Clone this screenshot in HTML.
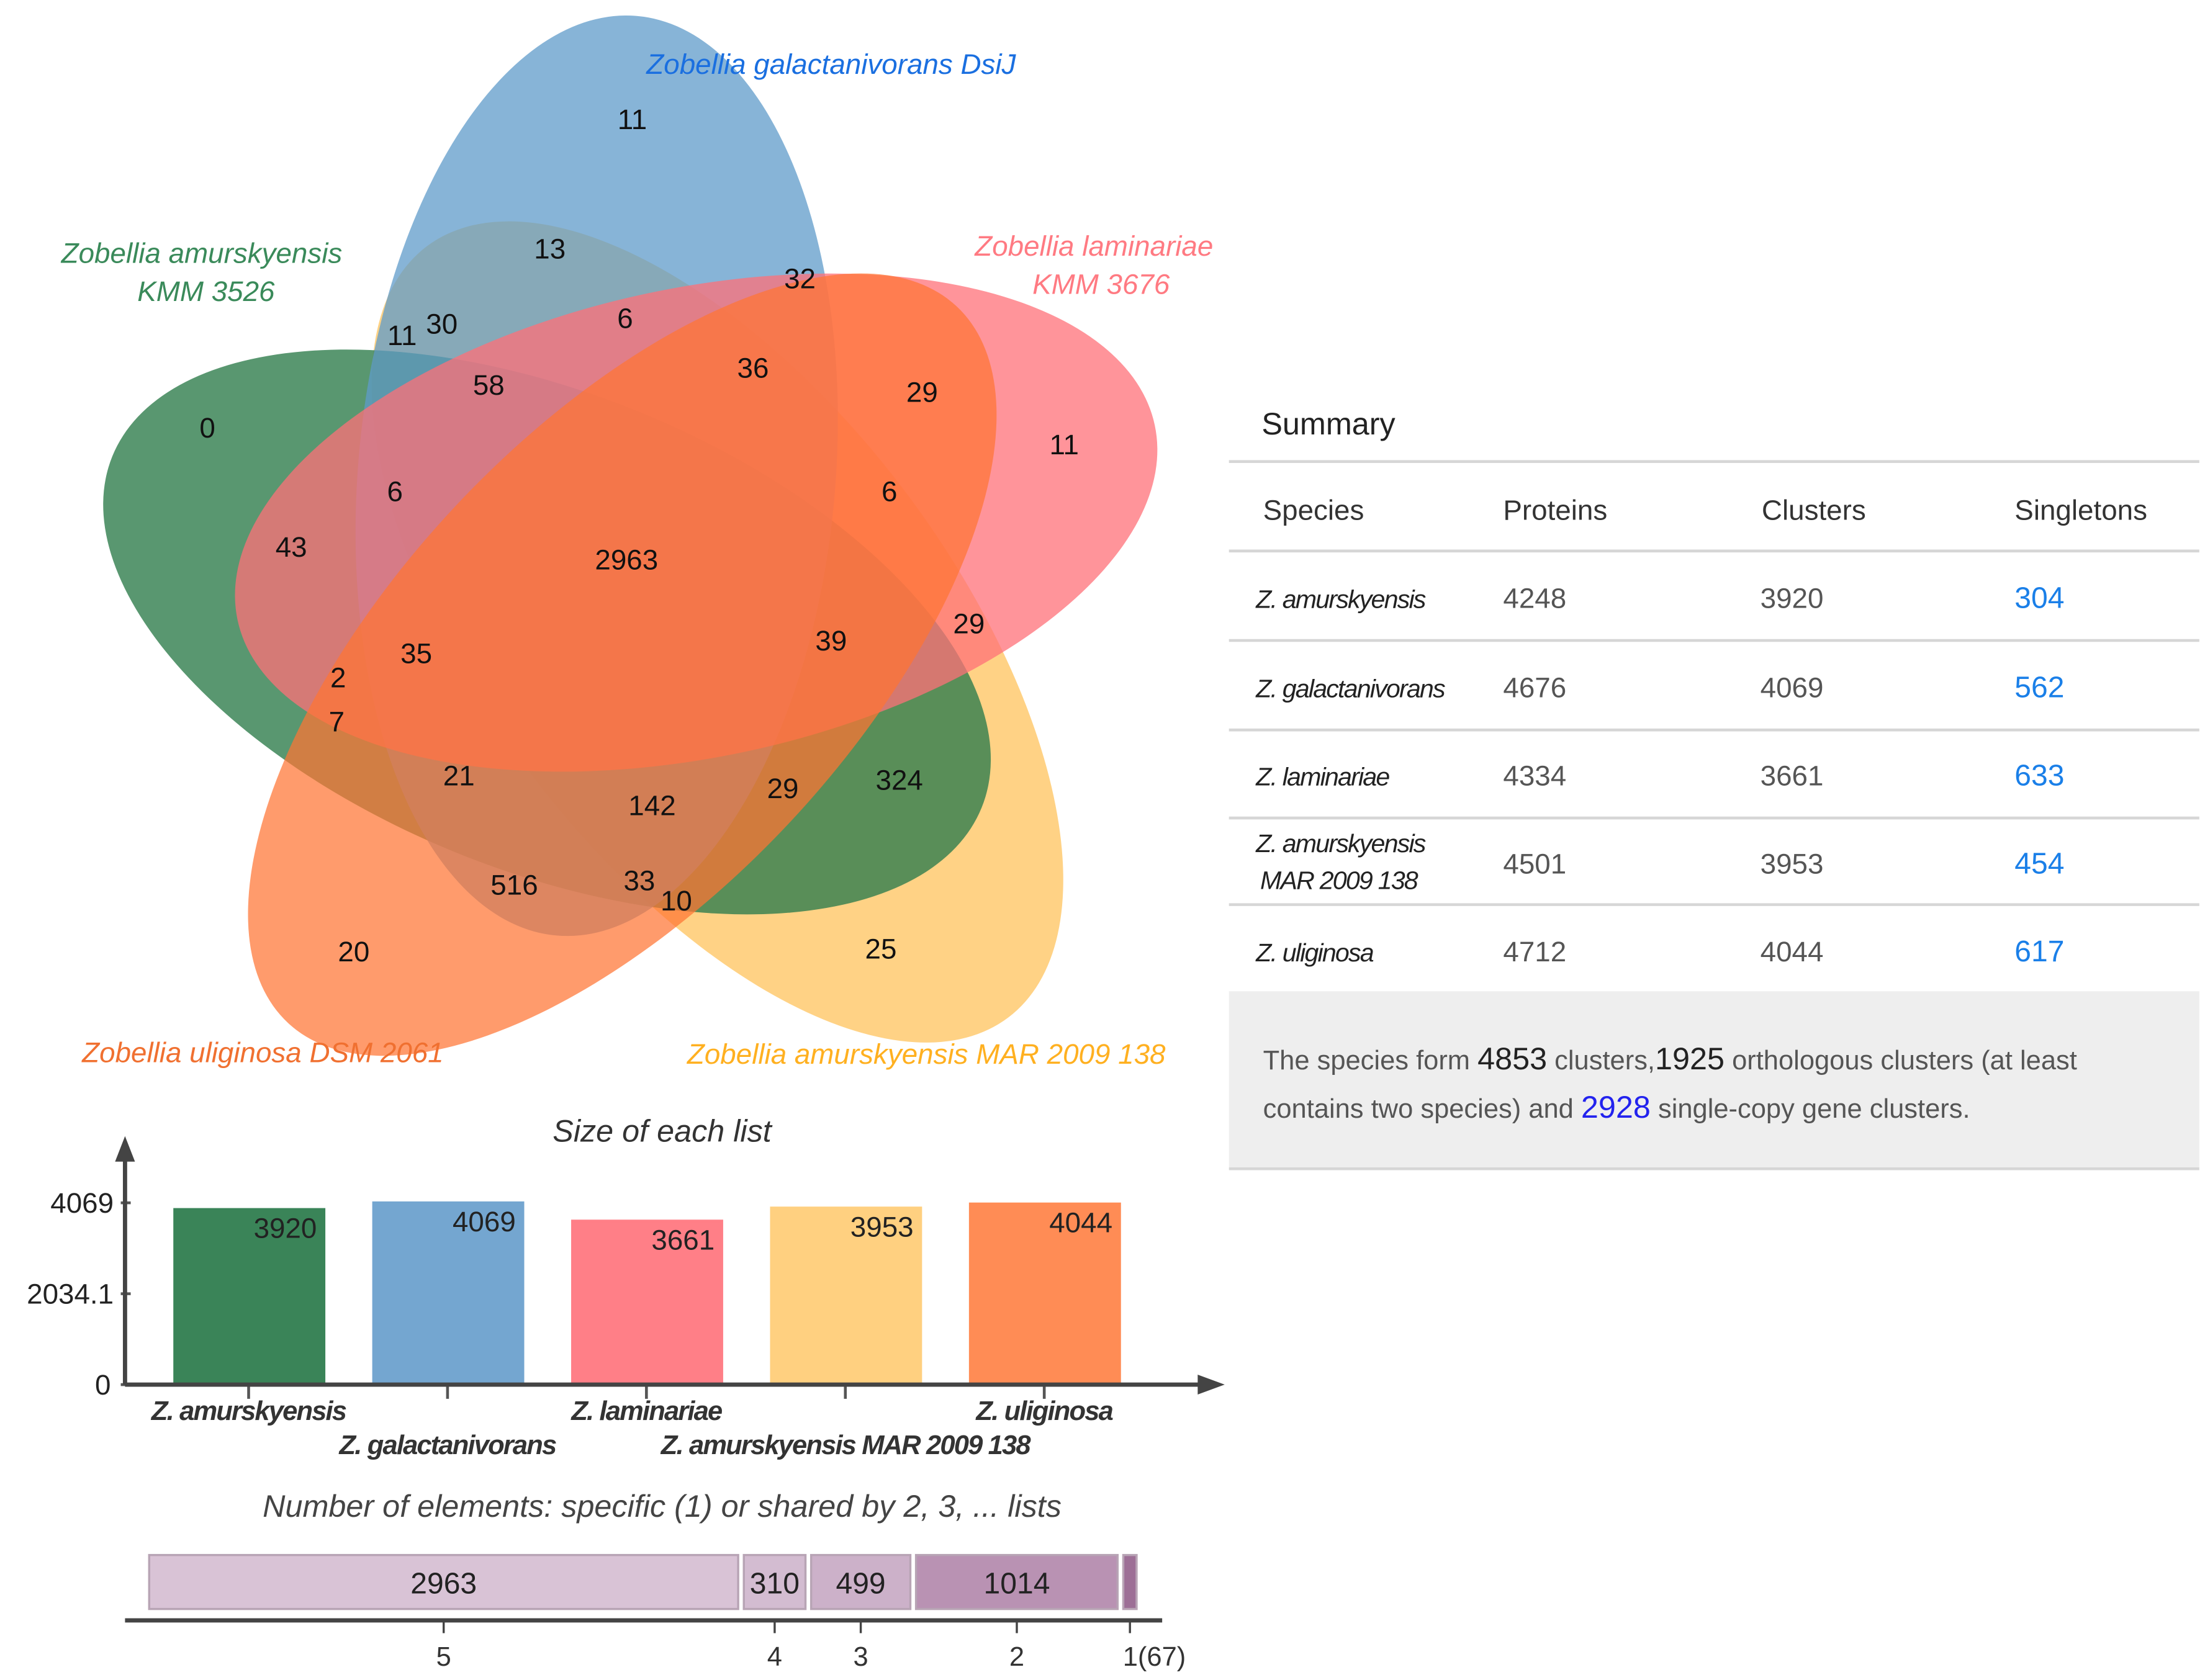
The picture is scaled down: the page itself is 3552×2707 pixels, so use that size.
<!DOCTYPE html>
<html><head><meta charset="utf-8"><style>
html,body{margin:0;padding:0;background:#fff;}
svg{display:block;font-family:"Liberation Sans",sans-serif;}
</style></head><body>
<svg id="root" width="3552" height="2707" viewBox="0 0 1552 1183" preserveAspectRatio="none" xmlns="http://www.w3.org/2000/svg">
<g id="venn">
  <ellipse cx="505" cy="445" rx="340" ry="165" transform="rotate(53 505 445)" fill="#ffc35c" opacity="0.75"/>
  <ellipse cx="385" cy="445" rx="330" ry="168" transform="rotate(22 385 445)" fill="#2f7d4c" opacity="0.8"/>
  <ellipse cx="420" cy="335" rx="325" ry="168" transform="rotate(-85 420 335)" fill="#5f9bc9" opacity="0.75"/>
  <ellipse cx="490" cy="368" rx="330" ry="165" transform="rotate(-12 490 368)" fill="#ff7078" opacity="0.75"/>
  <ellipse cx="438" cy="468" rx="345" ry="162" transform="rotate(-47 438 468)" fill="#ff7433" opacity="0.72"/>
  <g font-size="20" fill="#111" text-anchor="middle">
    <text x="445" y="91">11</text><text x="387" y="182">13</text><text x="563" y="203">32</text>
    <text x="283" y="243">11</text><text x="311" y="235">30</text><text x="440" y="231">6</text>
    <text x="344" y="278">58</text><text x="530" y="266">36</text><text x="649" y="283">29</text>
    <text x="146" y="308">0</text><text x="749" y="320">11</text><text x="278" y="353">6</text>
    <text x="626" y="353">6</text><text x="205" y="392">43</text><text x="441" y="401">2963</text>
    <text x="585" y="458">39</text><text x="682" y="446">29</text><text x="293" y="467">35</text>
    <text x="238" y="484">2</text><text x="237" y="515">7</text><text x="323" y="553">21</text>
    <text x="459" y="574">142</text><text x="551" y="562">29</text><text x="633" y="556">324</text>
    <text x="362" y="630">516</text><text x="450" y="627">33</text><text x="476" y="641">10</text>
    <text x="249" y="677">20</text><text x="620" y="675">25</text>
  </g>
  <g font-size="20" font-style="italic" text-anchor="middle">
    <text x="585" y="52" fill="#1a6fe0">Zobellia galactanivorans DsiJ</text>
    <text x="142" y="185" fill="#3a8a5a">Zobellia amurskyensis</text>
    <text x="145" y="212" fill="#3a8a5a">KMM 3526</text>
    <text x="770" y="180" fill="#ff7a82">Zobellia laminariae</text>
    <text x="775" y="207" fill="#ff7a82">KMM 3676</text>
    <text x="185" y="748" fill="#f07030">Zobellia uliginosa DSM 2061</text>
    <text x="652" y="749" fill="#ffb020">Zobellia amurskyensis MAR 2009 138</text>
  </g>
</g>

<g id="summary">
  <text x="888" y="306" font-size="22" fill="#222">Summary</text>
  <g stroke="#d6d6d6" stroke-width="2">
    <line x1="865" y1="325" x2="1548" y2="325"/><line x1="865" y1="388" x2="1548" y2="388"/>
    <line x1="865" y1="451" x2="1548" y2="451"/><line x1="865" y1="514" x2="1548" y2="514"/>
    <line x1="865" y1="576" x2="1548" y2="576"/><line x1="865" y1="637" x2="1548" y2="637"/>
  </g>
  <rect x="865" y="698" width="683" height="124" fill="#eeeeee"/>
  <line x1="865" y1="823" x2="1548" y2="823" stroke="#d6d6d6" stroke-width="2"/>
  <g font-size="20" fill="#333">
    <text x="889" y="366">Species</text><text x="1058" y="366">Proteins</text>
    <text x="1240" y="366">Clusters</text><text x="1418" y="366">Singletons</text>
  </g>
  <g font-size="20" fill="#555">
    <g font-style="italic" fill="#222" font-size="18" letter-spacing="-0.8">
      <text x="884" y="428">Z. amurskyensis</text><text x="884" y="491">Z. galactanivorans</text>
      <text x="884" y="553">Z. laminariae</text><text x="884" y="600">Z. amurskyensis</text>
      <text x="887" y="626">MAR 2009 138</text><text x="884" y="677">Z. uliginosa</text>
    </g>
    <text x="1058" y="428">4248</text><text x="1058" y="491">4676</text><text x="1058" y="553">4334</text><text x="1058" y="615">4501</text><text x="1058" y="677">4712</text>
    <text x="1239" y="428">3920</text><text x="1239" y="491">4069</text><text x="1239" y="553">3661</text><text x="1239" y="615">3953</text><text x="1239" y="677">4044</text>
    <g fill="#1a7fe8" font-size="21">
      <text x="1418" y="428">304</text><text x="1418" y="491">562</text><text x="1418" y="553">633</text><text x="1418" y="615">454</text><text x="1418" y="677">617</text>
    </g>
  </g>
  <text x="889" y="753" font-size="19" fill="#555">The species form <tspan fill="#222" font-size="22">4853</tspan> clusters,<tspan fill="#222" font-size="22">1925</tspan> orthologous clusters (at least</text>
  <text x="889" y="787" font-size="19" fill="#555">contains two species) and <tspan fill="#2222ee" font-size="22">2928</tspan> single-copy gene clusters.</text>
</g>

<g id="bars"></g>
<g id="stack"></g>
</svg>
<script>
const species = ["Z. amurskyensis","Z. galactanivorans","Z. laminariae","Z. amurskyensis MAR 2009 138","Z. uliginosa"];
const sizes = [3920,4069,3661,3953,4044];
const barColors = ["#3a8458","#74a6d0","#ff7f87","#ffd080","#ff8c55"];
const yTicks = [0,2034.1,4069];
const shareLabels = ["5","4","3","2","1"];
const shareCounts = [2963,310,499,1014,67];
const NS="http://www.w3.org/2000/svg";
function mk(p,t,a){const e=document.createElementNS(NS,t);for(const k in a)e.setAttribute(k,a[k]);p.appendChild(e);return e;}
const bars=document.getElementById('bars');
const x0=88,y0=975,ymax=4069,yTop=847;
function yS(v){return y0-(v/ymax)*(y0-yTop);}
function xS(i){return 123+i*140;}
let t=mk(bars,'text',{x:466,y:804,'font-size':22,'font-style':'italic','text-anchor':'middle',fill:'#333'});t.textContent="Size of each list";


sizes.forEach((v,i)=>{
  const r=mk(bars,'rect',{x:xS(i),y:yS(v),width:105,height:y0-yS(v),fill:barColors[i],stroke:barColors[i],'stroke-width':2});
  
  
  const l=mk(bars,'text',{x:xS(i)+100,y:yS(v)+20,'font-size':20,'text-anchor':'end',fill:'#222'});l.textContent=v;
  
  
  mk(bars,'line',{x1:xS(i)+52,y1:y0,x2:xS(i)+52,y2:y0+10,stroke:'#555','stroke-width':2});
  const c=mk(bars,'text',{x:xS(i)+52,y:i%2?1024:1000,'font-size':19,'font-style':'italic','font-weight':'bold','text-anchor':'middle',fill:'#333','letter-spacing':'-0.8'});c.textContent=species[i];
  
  
});
yTicks.forEach(v=>{
  const l=mk(bars,'text',{x:v===0?78:80,y:yS(v)+7,'font-size':20,'text-anchor':'end',fill:'#222'});l.textContent=v;
  
  
  mk(bars,'line',{x1:x0-3,y1:yS(v),x2:x0+4,y2:yS(v),stroke:'#555','stroke-width':2});
});
mk(bars,'line',{x1:x0,y1:y0,x2:x0,y2:812,stroke:'#444','stroke-width':3});
mk(bars,'path',{d:'M81,818 L88,800 L95,818 Z',fill:'#444'});
mk(bars,'line',{x1:x0,y1:y0,x2:845,y2:y0,stroke:'#444','stroke-width':3});
mk(bars,'path',{d:'M843,968 L862,975 L843,982 Z',fill:'#444'});

const st=document.getElementById('stack');
t=mk(st,'text',{x:466,y:1068,'font-size':22,'font-style':'italic','text-anchor':'middle',fill:'#444'});t.textContent="Number of elements: specific (1) or shared by 2, 3, ... lists";


const total=shareCounts.reduce((a,b)=>a+b,0);
const sx0=105,sw=695-4*4,gap=4;
const fills=["#d9c3d6","#d3bcd1","#ccb1c9","#b992b3","#9d6f96"];
let cx=sx0;
shareCounts.forEach((v,i)=>{
  const w=v/total*sw;
  const r=mk(st,'rect',{x:cx,y:1095,width:w,height:38,fill:fills[i],stroke:'#b8a4b5','stroke-width':1.5});
  
  
  if(w>30){const l=mk(st,'text',{x:cx+w/2,y:1122,'font-size':21,'text-anchor':'middle',fill:'#222'});l.textContent=v;
    
    }
  mk(st,'line',{x1:cx+w/2,y1:1141,x2:cx+w/2,y2:1150,stroke:'#444','stroke-width':1.5});
  const tl=mk(st,'text',{x:cx+w/2,y:1173,'font-size':19,'text-anchor':i===4?'start':'middle',fill:'#333'});
  tl.textContent=i===4?shareLabels[i]+'('+v+')':shareLabels[i];
  if(i===4)tl.setAttribute('x',cx+w/2-5);
  
  
  cx+=w+gap;
});
mk(st,'line',{x1:88,y1:1141,x2:818,y2:1141,stroke:'#444','stroke-width':3});
</script>
</body></html>
